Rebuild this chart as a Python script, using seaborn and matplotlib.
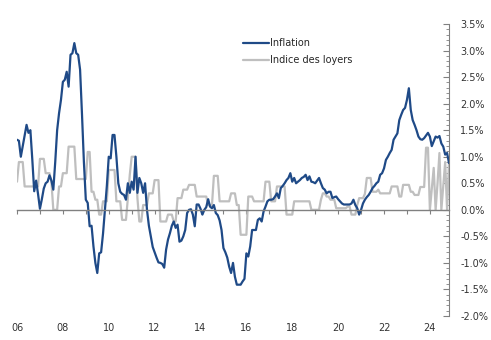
import numpy as np
import pandas as pd
import matplotlib
matplotlib.use("Agg")
import matplotlib.pyplot as plt
import seaborn as sns
from matplotlib.ticker import MultipleLocator, FuncFormatter, FixedLocator

# Monthly data, Jan 2006 .. Nov 2024 (values in %)
inflation = [
    1.32, 1.30, 1.00, 1.20, 1.40, 1.60, 1.45, 1.50, 0.95, 0.35, 0.55, 0.30,
    0.02, 0.20, 0.40, 0.50, 0.53, 0.65, 0.55, 0.38, 0.90, 1.50, 1.82, 2.07,
    2.41, 2.45, 2.60, 2.32, 2.92, 2.95, 3.14, 2.95, 2.92, 2.64, 1.80, 0.90,
    0.19, 0.13, -0.31, -0.30, -0.69, -1.00, -1.19, -0.82, -0.80, -0.45, 0.00, 0.45,
    1.00, 0.97, 1.41, 1.41, 1.00, 0.50, 0.34, 0.30, 0.28, 0.19, 0.50, 0.32,
    0.53, 0.38, 1.00, 0.32, 0.60, 0.50, 0.32, 0.50, 0.00, -0.30, -0.50, -0.70,
    -0.80, -0.90, -0.99, -1.00, -1.02, -1.09, -0.75, -0.56, -0.44, -0.30, -0.22, -0.34,
    -0.28, -0.60, -0.58, -0.50, -0.38, -0.06, 0.00, 0.01, -0.09, -0.31, 0.10, 0.10,
    0.02, -0.09, 0.00, 0.05, 0.20, 0.06, 0.03, 0.09, -0.06, -0.10, -0.20, -0.38,
    -0.72, -0.80, -0.90, -1.07, -1.19, -1.00, -1.26, -1.41, -1.41, -1.41, -1.35, -1.30,
    -0.82, -0.88, -0.69, -0.38, -0.38, -0.38, -0.19, -0.16, -0.22, -0.03, 0.06, 0.16,
    0.19, 0.19, 0.20, 0.25, 0.31, 0.22, 0.41, 0.45, 0.50, 0.56, 0.60, 0.69,
    0.53, 0.60, 0.50, 0.53, 0.56, 0.60, 0.62, 0.66, 0.56, 0.63, 0.53, 0.52,
    0.50, 0.55, 0.60, 0.50, 0.41, 0.38, 0.31, 0.34, 0.34, 0.22, 0.24, 0.25,
    0.20, 0.16, 0.12, 0.10, 0.10, 0.10, 0.10, 0.12, 0.19, 0.09, 0.03, -0.09,
    0.00, 0.12, 0.19, 0.24, 0.28, 0.34, 0.41, 0.45, 0.50, 0.53, 0.66, 0.69,
    0.78, 0.94, 1.00, 1.07, 1.13, 1.32, 1.38, 1.44, 1.69, 1.79, 1.88, 1.92,
    2.07, 2.29, 1.88, 1.69, 1.60, 1.50, 1.38, 1.33, 1.32, 1.35, 1.40, 1.45,
    1.38, 1.20, 1.29, 1.38, 1.36, 1.39, 1.25, 1.19, 1.04, 1.07, 0.88,
]

loyers = [
    0.53, 0.90, 0.90, 0.90, 0.44, 0.44, 0.44, 0.44, 0.44, 0.44, 0.44, 0.44,
    0.96, 0.96, 0.96, 0.69, 0.69, 0.69, 0.53, 0.00, 0.00, 0.00, 0.44, 0.44,
    0.69, 0.69, 0.69, 1.19, 1.19, 1.19, 1.19, 0.58, 0.58, 0.58, 0.58, 0.58,
    0.58, 1.09, 1.09, 0.34, 0.34, 0.19, 0.19, -0.09, -0.09, 0.16, 0.16, 0.16,
    0.75, 0.75, 0.75, 0.75, 0.16, 0.16, 0.16, -0.19, -0.19, -0.19, 0.22, 0.66,
    1.00, 1.00, 1.00, 0.22, -0.22, -0.22, 0.09, 0.09, 0.09, 0.31, 0.31, 0.31,
    0.56, 0.56, 0.56, -0.22, -0.22, -0.22, -0.22, -0.09, -0.09, -0.09, -0.22, -0.22,
    0.22, 0.22, 0.22, 0.38, 0.38, 0.38, 0.47, 0.47, 0.47, 0.47, 0.25, 0.25,
    0.25, 0.25, 0.25, 0.25, 0.09, 0.09, 0.09, 0.64, 0.64, 0.64, 0.16, 0.16,
    0.16, 0.16, 0.16, 0.16, 0.31, 0.31, 0.31, 0.09, 0.09, -0.47, -0.47, -0.47,
    -0.47, 0.25, 0.25, 0.25, 0.16, 0.16, 0.16, 0.16, 0.16, 0.16, 0.53, 0.53,
    0.53, 0.16, 0.16, 0.16, 0.44, 0.44, 0.44, 0.44, 0.44, -0.09, -0.09, -0.09,
    -0.09, 0.16, 0.16, 0.16, 0.16, 0.16, 0.16, 0.16, 0.16, 0.16, 0.00, 0.00,
    0.00, 0.00, 0.00, 0.19, 0.31, 0.31, 0.25, 0.25, 0.19, 0.19, 0.19, 0.03,
    0.03, 0.03, 0.03, 0.03, 0.03, 0.06, 0.06, -0.09, -0.09, -0.09, 0.09, 0.22,
    0.22, 0.22, 0.30, 0.60, 0.60, 0.60, 0.34, 0.34, 0.34, 0.38, 0.31, 0.31,
    0.31, 0.31, 0.31, 0.31, 0.44, 0.44, 0.44, 0.44, 0.25, 0.25, 0.47, 0.47,
    0.47, 0.47, 0.34, 0.34, 0.28, 0.28, 0.28, 0.43, 0.43, 0.43, 1.17, 1.17,
    0.00, 0.40, 0.79, 0.00, 0.50, 1.07, 0.00, 0.45, 0.90, 0.00, 0.90,
]

label_infl = "Inflation"
label_loy = "Indice des loyers"
year_ticks = list(range(2006, 2025))
year_labels_pos = list(range(2006, 2025, 2))
year_labels = ["06", "08", "10", "12", "14", "16", "18", "20", "22", "24"]

sns.set_style("white")
plt.rcParams["font.family"] = ["DejaVu Sans"]
plt.rcParams["axes.unicode_minus"] = False

W, H = 491, 340
fig = plt.figure(figsize=(W / 100, H / 100), dpi=100)
ax = fig.add_axes([17 / W, 1 - 316 / H, (449 - 17) / W, (316 - 24) / H])

x = 2006 + np.arange(len(inflation)) / 12.0
sns.lineplot(x=x, y=loyers, ax=ax, color="#BFBFBF", linewidth=1.6, label=label_loy)
sns.lineplot(x=x, y=inflation, ax=ax, color="#1F4A87", linewidth=1.6, label=label_infl)

ax.set_xlim(x[0], x[-1])
ax.set_ylim(-2.0, 3.5)
ax.set_xlabel("")
ax.set_ylabel("")

# Right-hand percentage axis
ax.yaxis.tick_right()
ax.yaxis.set_major_locator(MultipleLocator(0.5))
ax.yaxis.set_minor_locator(MultipleLocator(0.1))
ax.yaxis.set_major_formatter(FuncFormatter(lambda v, p: f"{v:.1f}%"))
ax.tick_params(axis="y", which="major", direction="in", length=4, width=0.8,
               color="#808080", labelcolor="#333333", labelsize=7, pad=8,
               right=True, left=False)
ax.tick_params(axis="y", which="minor", direction="in", length=2.5, width=0.6,
               color="#808080", right=True, left=False)

for s in ["top", "left"]:
    ax.spines[s].set_visible(False)
ax.spines["right"].set_color("#808080")
ax.spines["right"].set_linewidth(0.8)
ax.spines["bottom"].set_position(("data", 0))
ax.spines["bottom"].set_color("#808080")
ax.spines["bottom"].set_linewidth(1.0)

ax.xaxis.set_major_locator(FixedLocator(year_ticks))
ax.tick_params(axis="x", which="major", direction="out", length=3, width=0.8,
               color="#808080", labelbottom=False, bottom=True)

sec = ax.secondary_xaxis("bottom")
sec.set_xticks(year_labels_pos)
sec.set_xticklabels(year_labels)
sec.tick_params(axis="x", length=0, labelsize=7, labelcolor="#333333", pad=5)
sec.spines["bottom"].set_visible(False)

handles, labels = ax.get_legend_handles_labels()
order = [labels.index(label_infl), labels.index(label_loy)]
ax.legend([handles[i] for i in order], [labels[i] for i in order],
          loc="upper left", bbox_to_anchor=(243 / W, 1 - 38 / H),
          bbox_transform=fig.transFigure, frameon=False, fontsize=7,
          handlelength=2.7, handletextpad=0.1, labelspacing=0.75,
          borderpad=0, borderaxespad=0)

fig.savefig("out.png", dpi=100)
